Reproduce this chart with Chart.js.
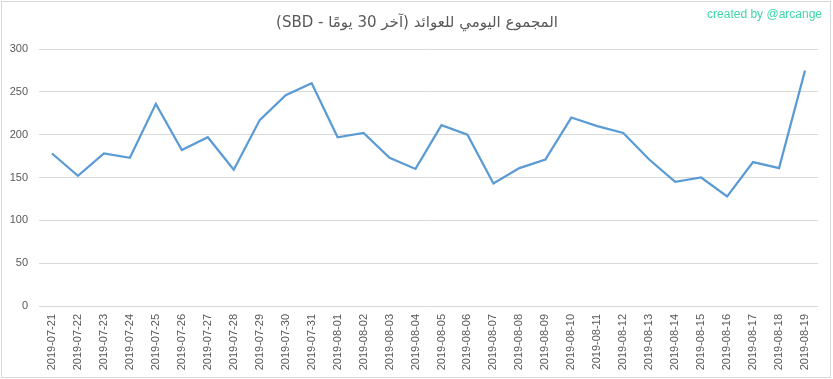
<!DOCTYPE html>
<html>
<head>
<meta charset="utf-8">
<script src="https://cdn.jsdelivr.net/npm/chart.js@4/dist/chart.umd.min.js"></script>
<style>
html,body{margin:0;padding:0;background:#fff;}
#wrap{position:relative;width:833px;height:379px;}
</style>
</head>
<body>
<div id="wrap"><canvas id="c" width="833" height="379"></canvas></div>
<script>
const categories = ["2019-07-21","2019-07-22","2019-07-23","2019-07-24","2019-07-25","2019-07-26","2019-07-27","2019-07-28","2019-07-29","2019-07-30","2019-07-31","2019-08-01","2019-08-02","2019-08-03","2019-08-04","2019-08-05","2019-08-06","2019-08-07","2019-08-08","2019-08-09","2019-08-10","2019-08-11","2019-08-12","2019-08-13","2019-08-14","2019-08-15","2019-08-16","2019-08-17","2019-08-18","2019-08-19"];
const rewards = [178,152,178,173,236,182,197,159,217,246,260,197,202,173,160,211,200,143,161,171,220,210,202,171,145,150,128,168,161,275];
const yTicks = [0,50,100,150,200,250,300];
const titleText = "المجموع اليومي للعوائد (آخر 30 يومًا - SBD)";
const creditText = "created by @arcange";

const decor = {
  id:'decor',
  beforeDraw(chart){
    const ctx = chart.ctx;
    ctx.save();
    ctx.fillStyle = '#fff';
    ctx.fillRect(0,0,chart.width,chart.height);
    ctx.strokeStyle = '#d9d9d9';
    ctx.lineWidth = 1;
    ctx.strokeRect(1.5,1.5,chart.width-4,chart.height-3);
    ctx.restore();
  },
  afterDraw(chart){
    const ctx = chart.ctx;
    ctx.save();
    ctx.direction = 'rtl';
    ctx.textAlign = 'center';
    ctx.textBaseline = 'middle';
    ctx.fillStyle = '#595959';
    ctx.font = '15px "DejaVu Sans"';
    ctx.fillText(titleText, 417, 23);
    ctx.direction = 'ltr';
    ctx.textAlign = 'right';
    ctx.fillStyle = '#3ed6a8';
    ctx.font = '12px "Liberation Sans"';
    ctx.fillText(creditText, 822, 15);
    ctx.restore();
  }
};

new Chart(document.getElementById('c'), {
  type:'line',
  data:{
    labels: categories,
    datasets:[{
      data: rewards,
      borderColor:'#5b9bd5',
      borderWidth:2.25,
      pointRadius:0,
      tension:0,
      fill:false
    }]
  },
  options:{
    responsive:false,
    animation:false,
    layout:{padding:{top:49,right:15,bottom:0,left:0}},
    plugins:{legend:{display:false},title:{display:false},tooltip:{enabled:false}},
    scales:{
      x:{
        offset:true,
        grid:{display:false,drawTicks:false},
        border:{display:false},
        ticks:{
          color:'#595959',
          font:{family:'"Liberation Sans"',size:11},
          minRotation:90,maxRotation:90,
          autoSkip:false,
          padding:8
        },
        afterFit(s){ s.height = 73; }
      },
      y:{
        min:0,max:300,
        afterBuildTicks(s){ s.ticks = yTicks.map(v=>({value:v})); },
        grid:{color:'#d9d9d9',drawTicks:false,lineWidth:1},
        border:{display:false},
        ticks:{
          color:'#595959',
          font:{family:'"Liberation Sans"',size:11},
          padding:11
        },
        afterFit(s){ s.width = 39; }
      }
    }
  },
  plugins:[decor]
});
</script>
</body>
</html>
